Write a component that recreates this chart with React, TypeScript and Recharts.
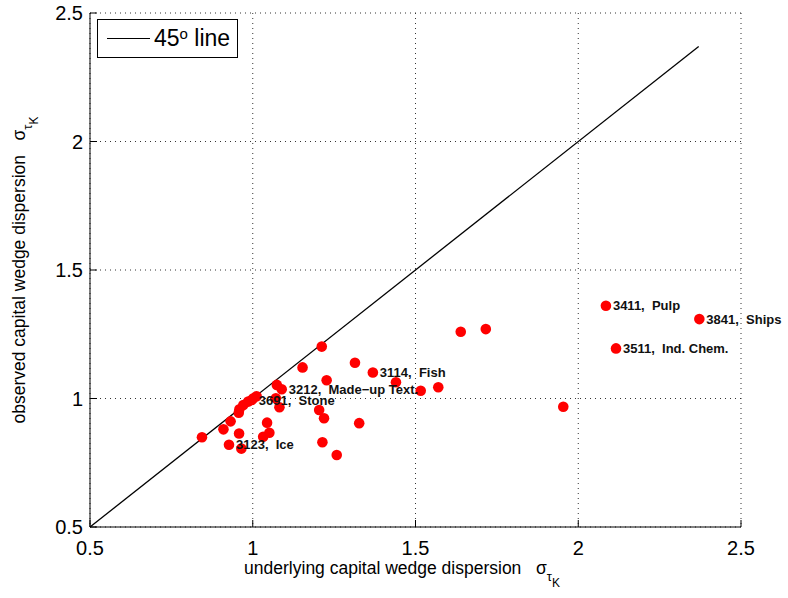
import React from 'react';
import { ComposedChart, Scatter, XAxis, YAxis, CartesianGrid, ReferenceLine } from 'recharts';

const underlying = [
  0.844, 0.910, 0.932, 0.927, 0.958, 0.965, 0.957, 0.959, 0.971, 0.986,
  0.997, 1.012, 1.002, 1.044, 1.032, 1.051, 1.074, 1.089, 1.071, 1.082,
  1.153, 1.212, 1.227, 1.204, 1.219, 1.214, 1.258, 1.327, 1.314, 1.369,
  1.440, 1.516, 1.570, 1.639, 1.716, 1.954, 2.085, 2.372, 2.116,
];
const observed = [
  0.849, 0.880, 0.911, 0.820, 0.864, 0.805, 0.945, 0.958, 0.975, 0.988,
  0.994, 1.009, 1.001, 0.906, 0.851, 0.867, 1.053, 1.036, 1.001, 0.966,
  1.121, 1.202, 1.071, 0.955, 0.923, 0.830, 0.780, 0.904, 1.139, 1.101,
  1.063, 1.030, 1.044, 1.260, 1.270, 0.968, 1.361, 1.309, 1.195,
];
const pointLabels = [
  '', '', '', '3123,  Ice', '', '', '', '', '', '',
  '3691,  Stone', '', '', '', '', '', '', '3212,  Made\u2212up Text.', '', '',
  '', '', '', '', '', '', '', '', '', '3114,  Fish',
  '', '', '', '', '', '', '3411,  Pulp', '3841,  Ships', '3511,  Ind. Chem.',
];
const xTicks = [0.5, 1, 1.5, 2, 2.5];
const yTicks = [0.5, 1, 1.5, 2, 2.5];
const diagonal = [{ x: 0.5, y: 0.5 }, { x: 2.37, y: 2.37 }];

const points = underlying.map((x, i) => ({ x, y: observed[i], label: pointLabels[i] }));
const labelled = points.filter((p) => p.label !== '');

const FONT = '"Liberation Sans", Arial, Helvetica, sans-serif';

const XTick = (props: any) => {
  const { x, y, payload } = props;
  return (
    <g>
      <line x1={x} x2={x} y1={y} y2={y - 7} stroke="#000" strokeWidth={1} />
      <text x={x} y={y + 28} textAnchor="middle" fontSize={20} fontFamily={FONT} fill="#000">
        {String(payload.value)}
      </text>
    </g>
  );
};

const YTick = (props: any) => {
  const { x, y, payload } = props;
  return (
    <g>
      <line x1={x} x2={x + 7} y1={y} y2={y} stroke="#000" strokeWidth={1} />
      <text x={x - 7} y={y} textAnchor="end" dominantBaseline="central" fontSize={20} fontFamily={FONT} fill="#000">
        {String(payload.value)}
      </text>
    </g>
  );
};

const XLabel = (props: any) => {
  const vb = props.viewBox || { x: 90, y: 527, width: 651 };
  const cx = vb.x + 312;
  return (
    <text x={cx} y={vb.y + 47} textAnchor="middle" fontSize={17.5} fontFamily={FONT} fill="#000" style={{ whiteSpace: 'pre' }}>
      <tspan>{'underlying capital wedge dispersion   \u03c3'}</tspan>
      <tspan fontSize={13} dy={7}>{'\u03c4'}</tspan>
      <tspan fontSize={12} dy={6}>K</tspan>
    </text>
  );
};

const YLabel = (props: any) => {
  const vb = props.viewBox || { x: 0, y: 13, width: 90, height: 514 };
  const cy = vb.y + vb.height / 2;
  const bx = 25;
  return (
    <text x={bx} y={cy} transform={`rotate(-90, ${bx}, ${cy})`} textAnchor="middle" fontSize={17.5} fontFamily={FONT} fill="#000" style={{ whiteSpace: 'pre' }}>
      <tspan>{'observed capital wedge dispersion   \u03c3'}</tspan>
      <tspan fontSize={13} dy={7}>{'\u03c4'}</tspan>
      <tspan fontSize={12} dy={6}>K</tspan>
    </text>
  );
};

const Dot = (props: any) => {
  const { cx, cy } = props;
  return <circle cx={cx} cy={cy} r={5.3} fill="#ff0000" />;
};

const PointLabel = (props: any) => {
  const { cx, cy, payload } = props;
  return (
    <text x={cx + 7} y={cy} dominantBaseline="central" fontSize={13} fontWeight="bold" fontFamily={FONT} fill="#111" style={{ whiteSpace: 'pre' }}>
      {payload.label}
    </text>
  );
};

export default function App() {
  return (
    <div style={{ position: 'absolute', left: 0, top: 0, width: 788, height: 598, background: '#fff' }}>
      <ComposedChart width={788} height={598} margin={{ top: 13, right: 47, bottom: 0, left: 0 }} style={{ overflow: 'visible' }}>
        <CartesianGrid stroke="#333" strokeDasharray="1 4" />
        <XAxis
          type="number"
          dataKey="x"
          domain={[0.5, 2.5]}
          ticks={xTicks}
          interval={0}
          height={71}
          tickSize={0}
          tickMargin={0}
          tickLine={false}
          axisLine={{ stroke: '#000' }}
          tick={<XTick />}
          label={<XLabel />}
        />
        <YAxis
          type="number"
          dataKey="y"
          domain={[0.5, 2.5]}
          ticks={yTicks}
          interval={0}
          width={90}
          tickSize={0}
          tickMargin={0}
          tickLine={false}
          axisLine={{ stroke: '#000' }}
          tick={<YTick />}
          label={<YLabel />}
        />
        <ReferenceLine segment={diagonal} stroke="#000" strokeWidth={1.3} ifOverflow="visible" />
        <Scatter data={points} shape={<Dot />} isAnimationActive={false} />
        <Scatter data={labelled} shape={<PointLabel />} isAnimationActive={false} />
      </ComposedChart>
      <div
        style={{
          position: 'absolute',
          left: 97,
          top: 19,
          width: 139,
          height: 37,
          border: '1px solid #000',
          background: '#fff',
          fontFamily: FONT,
        }}
      >
        <div style={{ position: 'absolute', left: 9, top: 18, width: 43, height: 1, background: '#000' }} />
        <div style={{ position: 'absolute', left: 56, top: 3, fontSize: 23, lineHeight: '30px', whiteSpace: 'pre', color: '#000' }}>
          45<sup style={{ fontSize: 15, verticalAlign: 'top', position: 'relative', top: -4 }}>o</sup> line
        </div>
      </div>
    </div>
  );
}
